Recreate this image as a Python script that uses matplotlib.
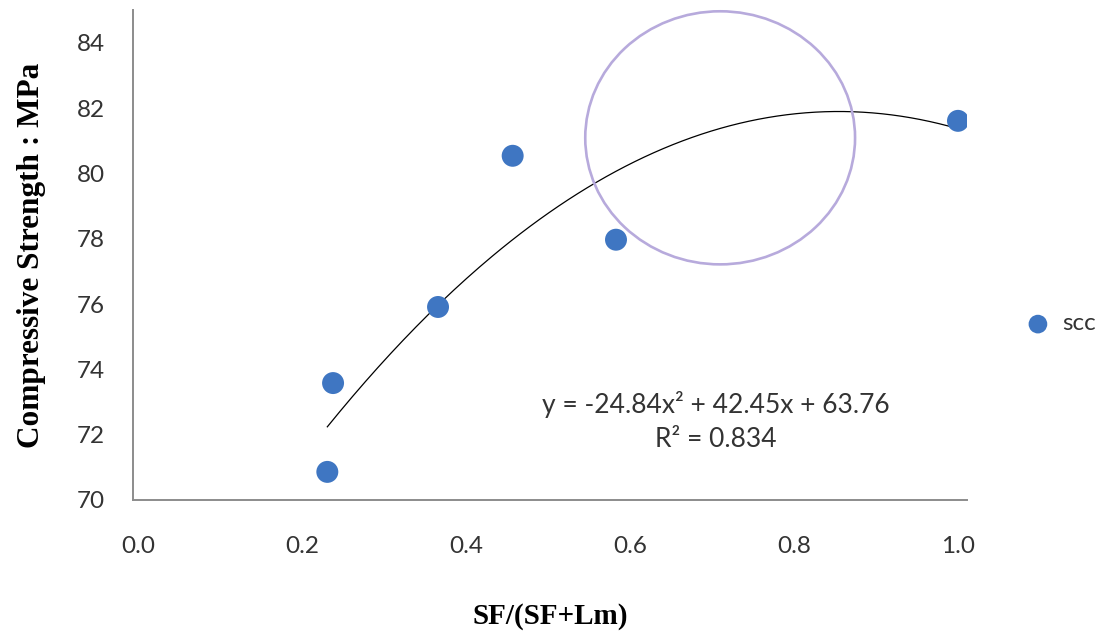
import numpy as np
import matplotlib
matplotlib.use("Agg")
import matplotlib.pyplot as plt
from matplotlib.patches import Ellipse

# Measured data: silica-fume ratio vs compressive strength
sf_ratio = [0.231, 0.238, 0.366, 0.457, 0.583, 1.0]
strength = [70.86, 73.58, 75.91, 80.54, 77.97, 81.61]

# Quadratic trendline coefficients (a*x^2 + b*x + c) and fit quality
coef_a, coef_b, coef_c = -24.84, 42.45, 63.76
r_squared = 0.834

x_ticks = [0.0, 0.2, 0.4, 0.6, 0.8, 1.0]
y_ticks = [70, 72, 74, 76, 78, 80, 82, 84]

fig = plt.figure(figsize=(10.97, 6.34), dpi=100)
ax = fig.add_axes([0.1212, 0.2114, 0.7603, 0.7726])

point_color = "#3f76c2"
ax.scatter(sf_ratio, strength, s=250, color=point_color, zorder=3,
           edgecolors="none", label="scc")

xf = np.linspace(min(sf_ratio), max(sf_ratio), 200)
yf = coef_a * xf ** 2 + coef_b * xf + coef_c
ax.plot(xf, yf, color="black", lw=0.9, zorder=2)

ax.set_xlim(-0.006, 1.011)
ax.set_ylim(70, 85.0)
ax.set_xticks(x_ticks)
ax.set_xticklabels([f"{v:.1f}" for v in x_ticks])
ax.set_yticks(y_ticks)
ax.set_yticklabels([str(v) for v in y_ticks])
ax.tick_params(length=0, labelsize=17.5, colors="#333333")
for lab in ax.get_xticklabels() + ax.get_yticklabels():
    lab.set_family("Lato")
ax.tick_params(axis="x", pad=26)
ax.tick_params(axis="y", pad=20)

for side in ("top", "right"):
    ax.spines[side].set_visible(False)
for side in ("left", "bottom"):
    ax.spines[side].set_color("#8c8c8c")
    ax.spines[side].set_linewidth(1.4)

ax.set_ylabel("Compressive Strength : MPa", family="Liberation Serif",
              fontweight="bold", fontsize=22.5, labelpad=22)
ax.set_xlabel("SF/(SF+Lm)", family="Liberation Serif", fontweight="bold",
              fontsize=21, labelpad=33)

# Trendline equation
eq = f"y = {coef_a}x² + {coef_b}x + {coef_c}\nR² = {r_squared}"
ax.text(0.705, 72.4, eq, ha="center", va="center", family="Lato",
        fontsize=19, color="#333333", linespacing=1.45)

# Highlight ring around the curve's maximum
ring = Ellipse((0.71, 81.09), 0.329, 7.75, fill=False, edgecolor="#b7aadc",
               lw=1.9, zorder=4, clip_on=False)
ax.add_patch(ring)

leg = fig.legend(loc="center left", bbox_to_anchor=(0.924, 0.489),
                 frameon=False, handletextpad=0.0, markerscale=0.85,
                 borderpad=0.0, borderaxespad=0.0,
                 prop={"family": "Lato", "size": 17.5})
for t in leg.get_texts():
    t.set_color("#333333")

fig.savefig("out.png", dpi=100)
